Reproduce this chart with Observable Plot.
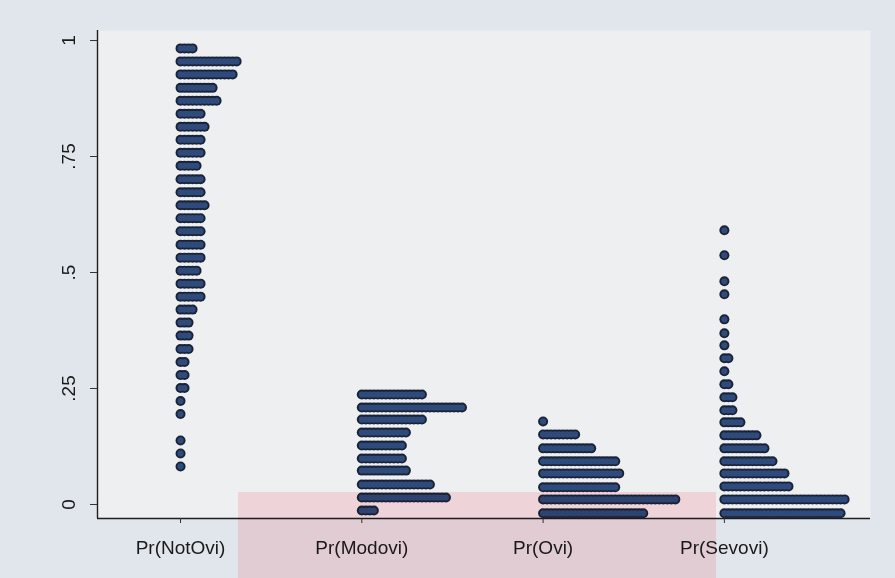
<!DOCTYPE html>
<html>
<head>
<meta charset="utf-8">
<script src="https://cdn.jsdelivr.net/npm/d3@7"></script>
<script src="https://cdn.jsdelivr.net/npm/@observablehq/plot@0.6"></script>
<style>
  html, body { margin: 0; padding: 0; background: #e1e6ec; }
  #wrap { position: relative; width: 895px; height: 578px; overflow: hidden; }
  #wm { position: absolute; left: 238px; top: 492px; width: 478px; height: 86px;
        background: #ffe2e5; mix-blend-mode: multiply; pointer-events: none; }
</style>
</head>
<body>
<div id="wrap"><div id="chart"></div><div id="wm"></div></div>
<script>
// ---- data ----
const categories = ["Pr(NotOvi)", "Pr(Modovi)", "Pr(Ovi)", "Pr(Sevovi)"];

const notOviBins   = [0.983,0.955,0.927,0.898,0.870,0.842,0.814,0.786,0.758,0.730,0.701,0.673,0.645,0.617,0.589,0.560,0.532,0.504,0.476,0.448,0.420,0.392,0.364,0.335,0.307,0.279,0.251,0.223,0.195,0.138,0.110,0.082];
const notOviCounts = [4,15,14,9,10,6,7,6,6,5,6,6,7,6,6,6,6,5,6,6,4,3,3,3,2,2,2,1,1,1,1,1];

const modoviBins   = [0.237,0.209,0.183,0.155,0.127,0.099,0.073,0.043,0.015,-0.013];
const modoviCounts = [16,26,16,12,11,11,12,18,22,4];

const oviBins   = [0.179,0.151,0.121,0.093,0.067,0.037,0.011,-0.019];
const oviCounts = [1,9,13,19,20,19,34,26];

const sevoviBins   = [0.591,0.537,0.481,0.453,0.399,0.369,0.343,0.315,0.287,0.259,0.231,0.203,0.177,0.149,0.121,0.093,0.067,0.039,0.011,-0.019];
const sevoviCounts = [1,1,1,1,1,1,1,2,1,2,3,3,5,9,11,13,16,17,31,30];

const yTicks = [0, 0.25, 0.5, 0.75, 1];
const yTickLabels = ["0", ".25", ".5", ".75", "1"];

// ---- build dot table ----
const step = 0.0221; // horizontal offset between stacked dots (x units)
const groups = [
  [notOviBins, notOviCounts],
  [modoviBins, modoviCounts],
  [oviBins, oviCounts],
  [sevoviBins, sevoviCounts]
];
const dots = [];
groups.forEach(([bins, counts], c) => {
  bins.forEach((v, i) => {
    for (let k = 0; k < counts[i]; k++) dots.push({x: c + k * step, y: v});
  });
});

const xDomain = [-0.458, 3.806];
const yDomain = [-0.0302, 1.0216];

const chart = Plot.plot({
  width: 895,
  height: 578,
  marginLeft: 97,
  marginRight: 25,
  marginTop: 30,
  marginBottom: 60,
  style: {background: "transparent", fontFamily: "'Liberation Sans', Arial, sans-serif", color: "#1a1a1a"},
  x: {domain: xDomain, axis: null},
  y: {domain: yDomain, axis: null},
  marks: [
    Plot.frame({fill: "#eeeff1", stroke: "none"}),
    Plot.ruleX([xDomain[0]], {stroke: "#1e1e1e", strokeWidth: 1.4}),
    Plot.ruleY([yDomain[0]], {stroke: "#1e1e1e", strokeWidth: 1.4}),
    Plot.axisY({ticks: yTicks, tickSize: 7, tickFormat: () => "", label: null, stroke: "#333", strokeWidth: 1}),
    Plot.text(yTicks, {x: xDomain[0], y: d => d, text: (d, i) => yTickLabels[i], rotate: -90,
      dx: -23, lineAnchor: "bottom", textAnchor: "middle", fontSize: 19, fill: "#1a1a1a"}),
    Plot.axisX({ticks: [0, 1, 2, 3], tickFormat: i => categories[i], tickSize: 5, tickPadding: 17,
      label: null, fontSize: 19, stroke: "#333", strokeWidth: 1}),
    Plot.dot(dots, {x: "x", y: "y", r: 5, fill: "#1a2236", stroke: "none"}),
    Plot.dot(dots, {x: "x", y: "y", r: 3.1, fill: "#2e4b7c", stroke: "none"})
  ]
});
document.getElementById("chart").appendChild(chart);
</script>
</body>
</html>
